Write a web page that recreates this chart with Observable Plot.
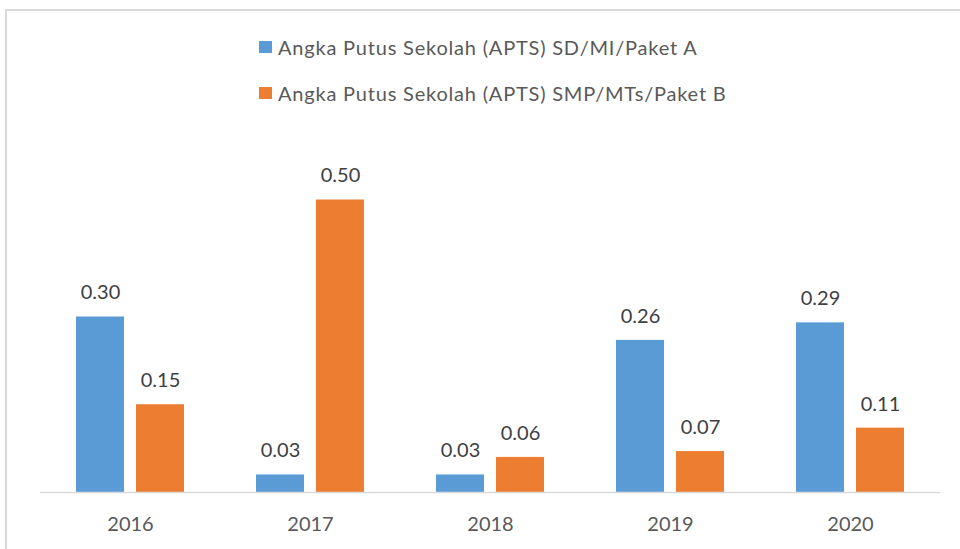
<!DOCTYPE html>
<html>
<head>
<meta charset="utf-8">
<script src="https://cdn.jsdelivr.net/npm/d3@7"></script>
<script src="https://cdn.jsdelivr.net/npm/@observablehq/plot@0.6"></script>
<style>
  html, body { margin: 0; padding: 0; background: #fff; }
  #wrap { position: relative; width: 960px; height: 549px; overflow: hidden; font-family: Lato, "Open Sans", sans-serif; }
  #frame { position: absolute; left: 5px; top: 9px; right: -10px; bottom: -10px; border-left: 2px solid #D9D9D9; border-top: 2px solid #D9D9D9; }
  #legend { position: absolute; left: 259px; top: 0; }
  .item { position: absolute; left: 0; white-space: nowrap; font-size: 20px; letter-spacing: 0.8px; color: #595959; display: flex; align-items: center; height: 24px; }
  .sw { width: 13px; height: 12px; margin-right: 6px; flex: none; }
  #chart { position: absolute; left: 0; top: 0; }
</style>
</head>
<body>
<div id="wrap">
  <div id="frame"></div>
  <div id="chart"></div>
  <div id="legend"></div>
</div>
<script>
const years = ["2016", "2017", "2018", "2019", "2020"];
const seriesNames = [
  "Angka Putus Sekolah (APTS) SD/MI/Paket A",
  "Angka Putus Sekolah (APTS) SMP/MTs/Paket B"
];
const sdValues = [0.30, 0.03, 0.03, 0.26, 0.29];
const smpValues = [0.15, 0.50, 0.06, 0.07, 0.11];
const seriesColors = ["#5B9BD5", "#ED7D31"];

const data = years.flatMap((y, i) => [
  {year: y, series: seriesNames[0], value: sdValues[i]},
  {year: y, series: seriesNames[1], value: smpValues[i]}
]);

const chart = Plot.plot({
  width: 960,
  height: 549,
  marginLeft: 40,
  marginRight: 20,
  marginTop: 141,
  marginBottom: 57,
  fx: {domain: years, padding: 0, axis: "bottom", tickSize: 0, tickPadding: 24, label: null},
  x: {domain: seriesNames, axis: null, paddingInner: 0.2, paddingOuter: 0.6},
  y: {domain: [0, 0.6], axis: null},
  color: {domain: seriesNames, range: seriesColors},
  style: {fontFamily: "Lato, 'Open Sans', sans-serif", fontSize: "20px", color: "#595959", background: "transparent", overflow: "visible"},
  marks: [
    Plot.barY(data, {fx: "year", x: "series", y: "value", fill: "series"}),
    Plot.ruleY([0], {stroke: "#D9D9D9", strokeWidth: 1.5}),
    Plot.text(data, {fx: "year", x: "series", y: "value", text: d => d.value.toFixed(2), dy: -24, fill: "#404040", fontSize: 20})
  ]
});
document.getElementById("chart").appendChild(chart);

const legend = document.getElementById("legend");
seriesNames.forEach((name, i) => {
  const item = document.createElement("div");
  item.className = "item";
  item.style.top = (i === 0 ? 35 : 81) + "px";
  const sw = document.createElement("span");
  sw.className = "sw";
  sw.style.background = seriesColors[i];
  const t = document.createElement("span");
  t.textContent = name;
  item.appendChild(sw);
  item.appendChild(t);
  legend.appendChild(item);
});
</script>
</body>
</html>
